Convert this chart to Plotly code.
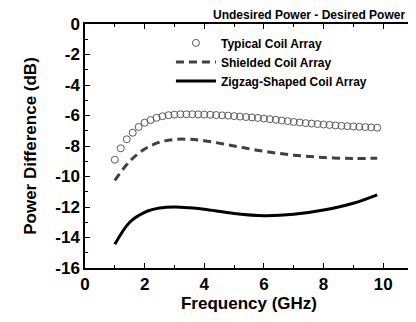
import plotly.graph_objects as go

# Typical coil array (open circles), 1.0..9.8 GHz step 0.2
freq_typ = [round(1.0 + 0.2 * i, 1) for i in range(45)]
typ_vals = [-8.9, -8.15, -7.56, -7.13, -6.75, -6.47, -6.3, -6.15, -6.05, -5.98,
            -5.94, -5.92, -5.92, -5.92, -5.93, -5.94, -5.95, -5.97, -5.99, -6.01,
            -6.04, -6.07, -6.1, -6.13, -6.16, -6.2, -6.24, -6.28, -6.33, -6.37,
            -6.42, -6.46, -6.5, -6.53, -6.56, -6.59, -6.62, -6.65, -6.68, -6.7,
            -6.72, -6.74, -6.76, -6.78, -6.8]

freq_line = [1.0, 1.5, 2.0, 2.5, 3.0, 3.5, 4.0, 5.0, 6.0, 7.0, 8.0, 9.0, 9.8]
shield_vals = [-10.25, -9.0, -8.2, -7.75, -7.57, -7.56, -7.65, -8.0, -8.35, -8.6, -8.75, -8.82, -8.8]
zigzag_vals = [-14.45, -13.0, -12.35, -12.07, -12.0, -12.05, -12.15, -12.42, -12.57, -12.48, -12.2, -11.75, -11.2]

x_ticks = [0, 2, 4, 6, 8, 10]
x_labels = ["0", "2", "4", "6", "8", "10"]
y_ticks = [0, -2, -4, -6, -8, -10, -12, -14, -16]
y_labels = ["0", "-2", "-4", "-6", "-8", "-10", "-12", "-14", "-16"]

font_fam = "Liberation Sans, Arial, sans-serif"

# page body has an 8px margin, so the figure is sized/offset to compensate
W, H = 408, 314
ML, MR, MT, MB = 77, 3, 16, 54

fig = go.Figure()
fig.add_trace(go.Scatter(
    x=freq_typ, y=typ_vals, mode="markers", name="Typical Coil Array",
    marker=dict(symbol="circle-open", size=7, color="#5a5a5a", line=dict(width=1, color="#5a5a5a"))))
fig.add_trace(go.Scatter(
    x=freq_line, y=shield_vals, mode="lines", name="Shielded Coil Array",
    line=dict(color="#404040", width=3, dash="8px,5px", shape="spline")))
fig.add_trace(go.Scatter(
    x=freq_line, y=zigzag_vals, mode="lines", name="Zigzag-Shaped Coil Array",
    line=dict(color="#000000", width=3, shape="spline")))

axis_common = dict(
    showline=True, linecolor="black", linewidth=1.5, mirror="ticks",
    ticks="inside", ticklen=5, tickwidth=1.2, tickcolor="black",
    showgrid=False, zeroline=False, automargin=False,
    tickfont=dict(family=font_fam, size=17, color="black", weight="bold"),
)

plot_w = W - ML - MR
plot_h = H - MT - MB

fig.update_layout(
    width=W, height=H,
    margin=dict(l=ML, r=MR, t=MT, b=MB),
    paper_bgcolor="white", plot_bgcolor="white",
    font=dict(family=font_fam, color="black"),
    xaxis=dict(range=[0, 11], tickvals=x_ticks, ticktext=x_labels,
               minor=dict(ticks="inside", ticklen=3, tickcolor="black", dtick=1, tick0=0),
               title=dict(text="Frequency (GHz)", font=dict(family=font_fam, size=17, weight="bold"), standoff=2),
               **axis_common),
    yaxis=dict(range=[-16, 0], tickvals=y_ticks, ticktext=y_labels,
               minor=dict(ticks="inside", ticklen=3, tickcolor="black", dtick=1, tick0=0),
               title=dict(text="Power Difference (dB)", font=dict(family=font_fam, size=17, weight="bold"), standoff=14),
               **axis_common),
    legend=dict(x=0.262, y=0.982, xanchor="left", yanchor="top", bgcolor="rgba(0,0,0,0)",
                font=dict(family=font_fam, size=12, color="black", weight="bold"),
                itemwidth=40, tracegroupgap=0),
    showlegend=True,
    annotations=[dict(text="<b>Undesired Power - Desired Power</b>",
                      x=(398 - ML) / plot_w, y=(H - MB - 15) / plot_h,
                      xref="paper", yref="paper", xanchor="right", yanchor="bottom",
                      borderpad=0,
                      showarrow=False, font=dict(family=font_fam, size=12, color="black"))],
)

fig.write_html("out.html")
